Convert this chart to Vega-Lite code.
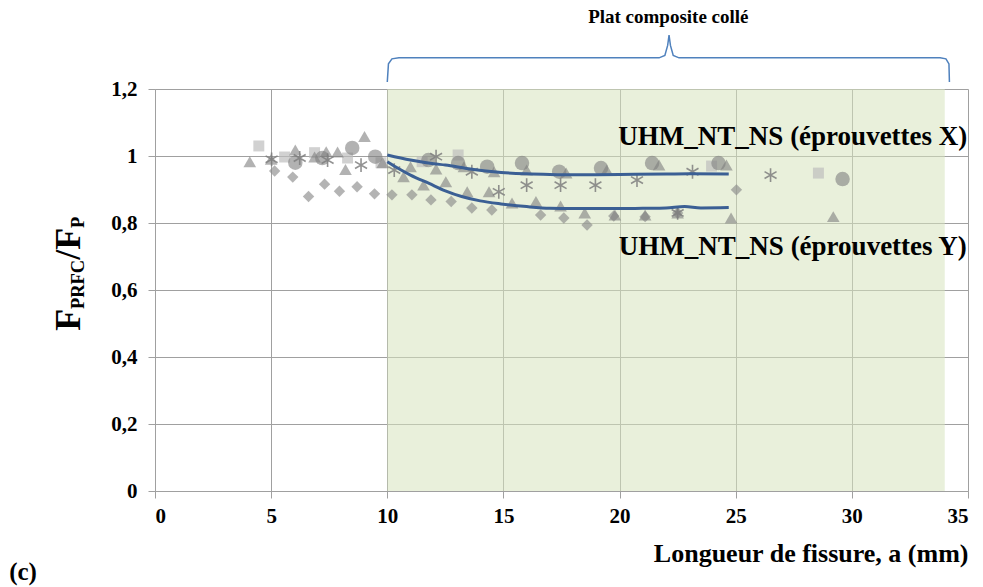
{
  "$schema": "https://vega.github.io/schema/vega-lite/v6.json",
  "width": 813,
  "height": 402,
  "autosize": "none",
  "padding": {"left": 155, "top": 89, "right": 15, "bottom": 96},
  "background": "white",
  "config": {
    "view": {"stroke": null},
    "axis": {
      "labelFont": "Liberation Serif",
      "labelFontWeight": "bold",
      "labelFontSize": 21,
      "labelColor": "black",
      "titleFont": "Liberation Serif",
      "titleFontWeight": "bold",
      "titleColor": "black",
      "domainColor": "#a0a0a0",
      "tickColor": "#a0a0a0",
      "gridColor": "#a0a0a0",
      "gridOpacity": 1,
      "tickSize": 7
    }
  },
  "datasets": {
    "pts": [
      {"x": 4.08, "y": 0.983, "s": "T"}, {"x": 5.0, "y": 0.99, "s": "T"}, {"x": 6.04, "y": 1.018, "s": "T"}, {"x": 6.87, "y": 0.997, "s": "T"},
      {"x": 7.37, "y": 1.013, "s": "T"}, {"x": 7.86, "y": 1.012, "s": "T"}, {"x": 8.2, "y": 0.96, "s": "T"}, {"x": 9.02, "y": 1.058, "s": "T"},
      {"x": 9.8, "y": 0.98, "s": "T"}, {"x": 10.7, "y": 0.938, "s": "T"}, {"x": 11.0, "y": 0.968, "s": "T"}, {"x": 11.56, "y": 0.913, "s": "T"},
      {"x": 12.1, "y": 0.961, "s": "T"}, {"x": 12.52, "y": 0.923, "s": "T"}, {"x": 13.3, "y": 0.968, "s": "T"}, {"x": 13.44, "y": 0.893, "s": "T"},
      {"x": 14.38, "y": 0.893, "s": "T"}, {"x": 14.6, "y": 0.953, "s": "T"}, {"x": 15.37, "y": 0.86, "s": "T"}, {"x": 16.0, "y": 0.958, "s": "T"},
      {"x": 16.4, "y": 0.864, "s": "T"}, {"x": 17.46, "y": 0.851, "s": "T"}, {"x": 17.7, "y": 0.949, "s": "T"}, {"x": 18.5, "y": 0.83, "s": "T"},
      {"x": 19.45, "y": 0.958, "s": "T"}, {"x": 19.8, "y": 0.824, "s": "T"}, {"x": 21.1, "y": 0.824, "s": "T"}, {"x": 21.7, "y": 0.973, "s": "T"},
      {"x": 22.5, "y": 0.83, "s": "T"}, {"x": 24.6, "y": 0.973, "s": "T"}, {"x": 24.8, "y": 0.815, "s": "T"}, {"x": 29.2, "y": 0.819, "s": "T"},
      {"x": 4.47, "y": 1.03, "s": "S"}, {"x": 5.58, "y": 0.997, "s": "S"}, {"x": 6.87, "y": 1.01, "s": "S"}, {"x": 8.29, "y": 0.994, "s": "S"},
      {"x": 9.73, "y": 0.98, "s": "S"}, {"x": 11.5, "y": 0.983, "s": "S"}, {"x": 13.05, "y": 1.003, "s": "S"}, {"x": 23.96, "y": 0.97, "s": "S"},
      {"x": 28.56, "y": 0.949, "s": "S"},
      {"x": 6.04, "y": 0.98, "s": "C"}, {"x": 7.2, "y": 0.994, "s": "C"}, {"x": 8.49, "y": 1.024, "s": "C"}, {"x": 9.48, "y": 0.998, "s": "C"},
      {"x": 11.77, "y": 0.988, "s": "C"}, {"x": 13.05, "y": 0.979, "s": "C"}, {"x": 14.3, "y": 0.968, "s": "C"}, {"x": 15.8, "y": 0.979, "s": "C"},
      {"x": 17.4, "y": 0.953, "s": "C"}, {"x": 19.2, "y": 0.964, "s": "C"}, {"x": 21.4, "y": 0.979, "s": "C"}, {"x": 24.26, "y": 0.979, "s": "C"},
      {"x": 29.6, "y": 0.931, "s": "C"},
      {"x": 5.02, "y": 0.99, "s": "A"}, {"x": 6.23, "y": 0.994, "s": "A"}, {"x": 7.43, "y": 0.988, "s": "A"}, {"x": 8.87, "y": 0.973, "s": "A"},
      {"x": 10.3, "y": 0.958, "s": "A"}, {"x": 12.1, "y": 0.998, "s": "A"}, {"x": 13.64, "y": 0.953, "s": "A"}, {"x": 14.8, "y": 0.893, "s": "A"},
      {"x": 16.0, "y": 0.913, "s": "A"}, {"x": 17.46, "y": 0.913, "s": "A"}, {"x": 18.96, "y": 0.913, "s": "A"}, {"x": 20.75, "y": 0.928, "s": "A"},
      {"x": 22.5, "y": 0.83, "s": "A"}, {"x": 23.14, "y": 0.953, "s": "A"}, {"x": 26.5, "y": 0.943, "s": "A"},
      {"x": 5.15, "y": 0.955, "s": "D"}, {"x": 5.93, "y": 0.937, "s": "D"}, {"x": 6.61, "y": 0.879, "s": "D"}, {"x": 7.3, "y": 0.916, "s": "D"},
      {"x": 7.94, "y": 0.895, "s": "D"}, {"x": 8.7, "y": 0.908, "s": "D"}, {"x": 9.45, "y": 0.887, "s": "D"}, {"x": 10.2, "y": 0.884, "s": "D"},
      {"x": 11.06, "y": 0.884, "s": "D"}, {"x": 11.88, "y": 0.869, "s": "D"}, {"x": 12.75, "y": 0.864, "s": "D"}, {"x": 13.64, "y": 0.845, "s": "D"},
      {"x": 14.5, "y": 0.839, "s": "D"}, {"x": 16.6, "y": 0.824, "s": "D"}, {"x": 17.6, "y": 0.815, "s": "D"}, {"x": 18.6, "y": 0.794, "s": "D"},
      {"x": 19.75, "y": 0.821, "s": "D"}, {"x": 21.1, "y": 0.819, "s": "D"}, {"x": 22.5, "y": 0.83, "s": "D"}, {"x": 25.03, "y": 0.899, "s": "D"}
    ],
    "curves": [
      {"x": 10, "y": 1.003, "c": "X"}, {"x": 11, "y": 0.988, "c": "X"}, {"x": 12, "y": 0.977, "c": "X"}, {"x": 12.5, "y": 0.973, "c": "X"},
      {"x": 13.5, "y": 0.962, "c": "X"}, {"x": 14.9, "y": 0.951, "c": "X"}, {"x": 16, "y": 0.947, "c": "X"}, {"x": 17, "y": 0.945, "c": "X"},
      {"x": 18, "y": 0.944, "c": "X"}, {"x": 20, "y": 0.945, "c": "X"}, {"x": 22, "y": 0.946, "c": "X"}, {"x": 23, "y": 0.947, "c": "X"},
      {"x": 24.7, "y": 0.946, "c": "X"},
      {"x": 10, "y": 0.983, "c": "Y"}, {"x": 10.5, "y": 0.962, "c": "Y"}, {"x": 11, "y": 0.943, "c": "Y"}, {"x": 11.8, "y": 0.918, "c": "Y"},
      {"x": 12.5, "y": 0.896, "c": "Y"}, {"x": 13.2, "y": 0.879, "c": "Y"}, {"x": 14, "y": 0.866, "c": "Y"}, {"x": 14.9, "y": 0.857, "c": "Y"},
      {"x": 16, "y": 0.849, "c": "Y"}, {"x": 17, "y": 0.844, "c": "Y"}, {"x": 18, "y": 0.843, "c": "Y"}, {"x": 19, "y": 0.843, "c": "Y"},
      {"x": 20, "y": 0.843, "c": "Y"}, {"x": 21, "y": 0.844, "c": "Y"}, {"x": 22, "y": 0.845, "c": "Y"}, {"x": 22.8, "y": 0.849, "c": "Y"},
      {"x": 23.5, "y": 0.845, "c": "Y"}, {"x": 24.7, "y": 0.846, "c": "Y"}
    ],
    "brace": [
      {"o": 1, "x": 10.0, "y": 1.221}, {"o": 2, "x": 10.05, "y": 1.275}, {"o": 3, "x": 10.2, "y": 1.29}, {"o": 4, "x": 10.5, "y": 1.293},
      {"o": 5, "x": 21.7, "y": 1.293}, {"o": 6, "x": 21.95, "y": 1.3}, {"o": 7, "x": 22.07, "y": 1.33}, {"o": 8, "x": 22.13, "y": 1.361},
      {"o": 9, "x": 22.19, "y": 1.33}, {"o": 10, "x": 22.31, "y": 1.3}, {"o": 11, "x": 22.56, "y": 1.293}, {"o": 12, "x": 33.8, "y": 1.293},
      {"o": 13, "x": 34.05, "y": 1.29}, {"o": 14, "x": 34.18, "y": 1.275}, {"o": 15, "x": 34.2, "y": 1.221}
    ]
  },
  "layer": [
    {
      "data": {"values": [{"x0": 10, "x1": 34, "y0": 0, "y1": 1.2}]},
      "mark": {"type": "rect", "fill": "#d7e4bd", "opacity": 0.55},
      "encoding": {
        "x": {
          "field": "x0", "type": "quantitative",
          "scale": {"domain": [0, 35], "nice": false},
          "axis": {
            "values": [0, 5, 10, 15, 20, 25, 30, 35],
            "grid": true,
            "title": "Longueur de fissure, a (mm)",
            "titleFontSize": 26,
            "titleAnchor": "end",
            "titlePadding": 14,
            "labelPadding": 7
          }
        },
        "x2": {"field": "x1"},
        "y": {
          "field": "y0", "type": "quantitative",
          "scale": {"domain": [0, 1.2], "nice": false},
          "axis": {
            "values": [0, 0.2, 0.4, 0.6, 0.8, 1, 1.2],
            "grid": true,
            "title": null,
            "labelPadding": 11,
            "labelExpr": "replace(format(datum.value, '~g'), '.', ',')"
          }
        },
        "y2": {"field": "y1"}
      }
    },
    {
      "data": {"name": "pts"},
      "transform": [{"filter": "datum.s === 'D'"}],
      "mark": {"type": "point", "shape": "diamond", "filled": true, "size": 130, "color": "#8c8c8c", "opacity": 0.65},
      "encoding": {"x": {"field": "x", "type": "quantitative"}, "y": {"field": "y", "type": "quantitative"}}
    },
    {
      "data": {"name": "pts"},
      "transform": [{"filter": "datum.s === 'S'"}],
      "mark": {"type": "point", "shape": "square", "filled": true, "size": 120, "color": "#bdbdbd", "opacity": 0.7},
      "encoding": {"x": {"field": "x", "type": "quantitative"}, "y": {"field": "y", "type": "quantitative"}}
    },
    {
      "data": {"name": "pts"},
      "transform": [{"filter": "datum.s === 'C'"}],
      "mark": {"type": "point", "shape": "circle", "filled": true, "size": 210, "color": "#7f7f7f", "opacity": 0.6},
      "encoding": {"x": {"field": "x", "type": "quantitative"}, "y": {"field": "y", "type": "quantitative"}}
    },
    {
      "data": {"name": "pts"},
      "transform": [{"filter": "datum.s === 'T'"}],
      "mark": {"type": "point", "shape": "triangle-up", "filled": true, "size": 160, "color": "#7f7f7f", "opacity": 0.6},
      "encoding": {"x": {"field": "x", "type": "quantitative"}, "y": {"field": "y", "type": "quantitative"}}
    },
    {
      "data": {"name": "pts"},
      "transform": [{"filter": "datum.s === 'A'"}],
      "mark": {"type": "point", "shape": "M0,-1L0,1M-0.87,-0.5L0.87,0.5M-0.87,0.5L0.87,-0.5", "filled": false, "size": 190, "strokeWidth": 1.6, "color": "#7f7f7f", "opacity": 0.85},
      "encoding": {"x": {"field": "x", "type": "quantitative"}, "y": {"field": "y", "type": "quantitative"}}
    },
    {
      "data": {"name": "curves"},
      "mark": {"type": "line", "color": "#3b5f94", "strokeWidth": 3, "interpolate": "monotone"},
      "encoding": {
        "x": {"field": "x", "type": "quantitative"},
        "y": {"field": "y", "type": "quantitative"},
        "detail": {"field": "c"}
      }
    },
    {
      "data": {"name": "brace"},
      "mark": {"type": "line", "color": "#4f81bd", "strokeWidth": 1.5},
      "encoding": {
        "x": {"field": "x", "type": "quantitative"},
        "y": {"field": "y", "type": "quantitative"},
        "order": {"field": "o"}
      }
    },
    {
      "data": {"values": [
        {"x": 27.46, "y": 1.057, "t": "UHM_NT_NS (éprouvettes X)"},
        {"x": 27.46, "y": 0.728, "t": "UHM_NT_NS (éprouvettes Y)"}
      ]},
      "mark": {"type": "text", "font": "Liberation Serif", "fontWeight": "bold", "fontSize": 27, "color": "black", "align": "center", "baseline": "middle"},
      "encoding": {"x": {"field": "x", "type": "quantitative"}, "y": {"field": "y", "type": "quantitative"}, "text": {"field": "t"}}
    },
    {
      "data": {"values": [{"x": 22.1, "y": 1.415, "t": "Plat composite collé"}]},
      "mark": {"type": "text", "font": "Liberation Serif", "fontWeight": "bold", "fontSize": 19, "color": "black", "align": "center", "baseline": "middle"},
      "encoding": {"x": {"field": "x", "type": "quantitative"}, "y": {"field": "y", "type": "quantitative"}, "text": {"field": "t"}}
    },
    {
      "data": {"values": [{"x": -5.68, "y": -0.242, "t": "(c)"}]},
      "mark": {"type": "text", "font": "Liberation Serif", "fontWeight": "bold", "fontSize": 25, "color": "black", "align": "center", "baseline": "middle"},
      "encoding": {"x": {"field": "x", "type": "quantitative"}, "y": {"field": "y", "type": "quantitative"}, "text": {"field": "t"}}
    },
    {
      "data": {"values": [
        {"x": -3.23, "y": 0.478, "t": "F"},
        {"x": -3.23, "y": 0.69, "t": "/F"}
      ]},
      "mark": {"type": "text", "font": "Liberation Serif", "fontWeight": "bold", "fontSize": 36, "color": "black", "align": "left", "baseline": "alphabetic", "angle": 270},
      "encoding": {"x": {"field": "x", "type": "quantitative"}, "y": {"field": "y", "type": "quantitative"}, "text": {"field": "t"}}
    },
    {
      "data": {"values": [
        {"x": -3.06, "y": 0.543, "t": "PRFC"},
        {"x": -3.06, "y": 0.785, "t": "P"}
      ]},
      "mark": {"type": "text", "font": "Liberation Serif", "fontWeight": "bold", "fontSize": 18.5, "color": "black", "align": "left", "baseline": "alphabetic", "angle": 270},
      "encoding": {"x": {"field": "x", "type": "quantitative"}, "y": {"field": "y", "type": "quantitative"}, "text": {"field": "t"}}
    }
  ]
}
